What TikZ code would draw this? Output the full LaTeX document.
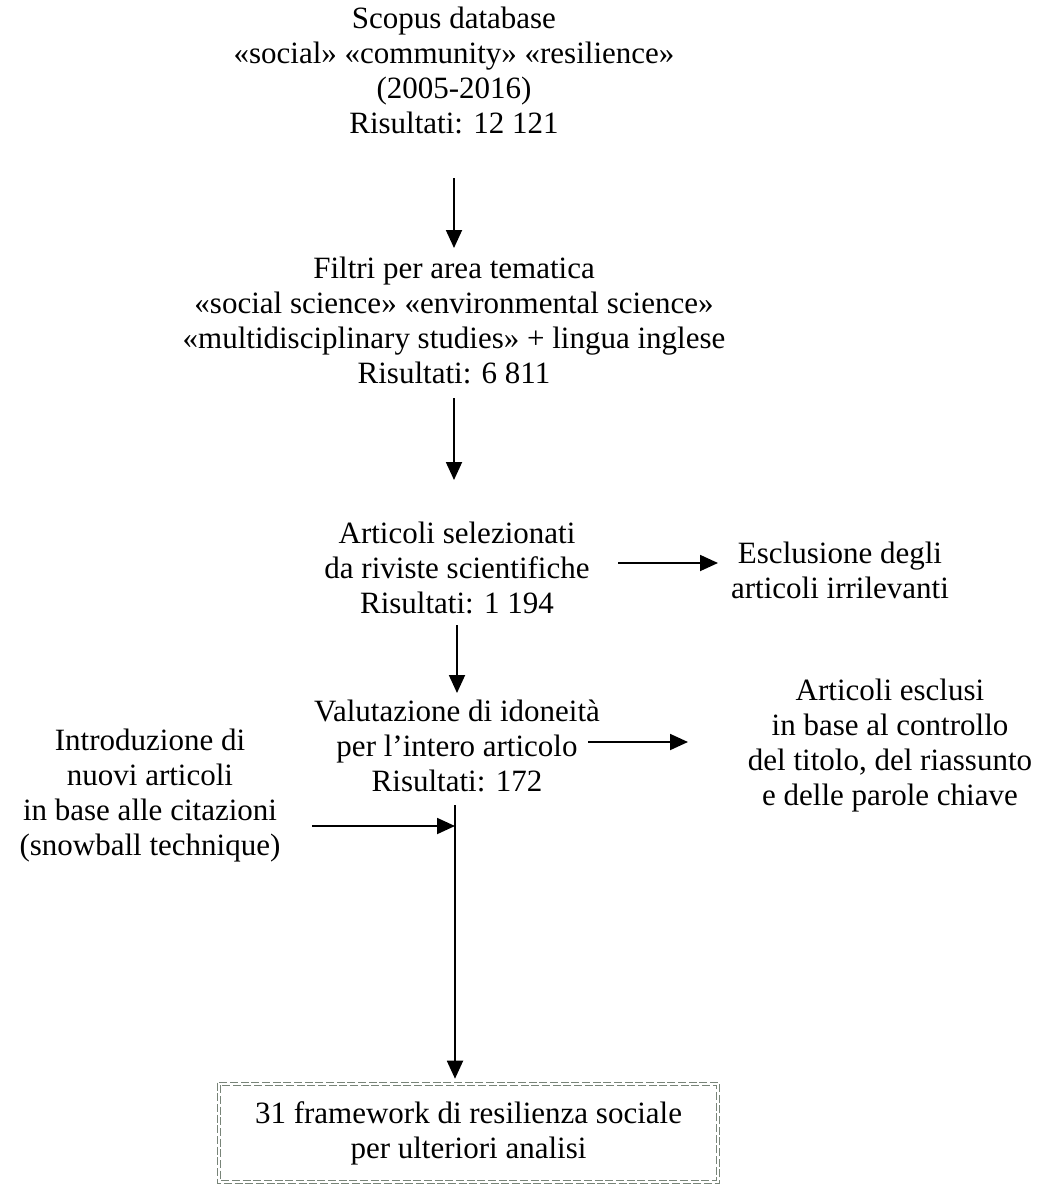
\documentclass[tikz,border=0pt]{standalone}
\usepackage{fontspec}
\setmainfont{Liberation Serif}
\usetikzlibrary{arrows.meta}
\definecolor{boxgray}{RGB}{120,132,120}
\tikzset{
  txt/.style={align=center, inner sep=0pt, font=\fontsize{23.25pt}{26.25pt}\selectfont},
  arr/.style={line width=1.4pt, -{Triangle[length=13.5pt,width=12pt]}},
  boxline/.style={draw=boxgray, line width=0.6pt, dash pattern=on 6pt off 2pt},
}
\begin{document}
\begin{tikzpicture}[x=0.75pt,y=-0.75pt]
\useasboundingbox (0,0) rectangle (1045,1189);
% text blocks
\node[txt] (b1) at (454,70.5) {Scopus database\\«social» «community» «resilience»\\(2005-2016)\\Risultati: 12 121};
\node[txt] (b2) at (454,320.5) {Filtri per area tematica\\«social science» «environmental science»\\«multidisciplinary studies» + lingua inglese\\Risultati: 6 811};
\node[txt] (b3) at (457,568) {Articoli selezionati\\da riviste scientifiche\\Risultati: 1 194};
\node[txt] (r3) at (840,570.5) {Esclusione degli\\articoli irrilevanti};
\node[txt] (b4) at (457,746) {Valutazione di idoneità\\per l’intero articolo\\Risultati: 172};
\node[txt] (r4) at (890,745.5) {Articoli esclusi\\in base al controllo\\del titolo, del riassunto\\e delle parole chiave};
\node[txt] (l5) at (150,795.5) {Introduzione di\\nuovi articoli\\in base alle citazioni\\(snowball technique)};
\node[minimum width=375.75pt, minimum height=75pt, inner sep=0pt,
      align=center, font=\fontsize{23.25pt}{26.25pt}\selectfont] (fin) at (468.5,1133)
      {31 framework di resilienza sociale\\per ulteriori analisi};
\draw[boxline] (fin.north west) rectangle (fin.south east);
\draw[boxline] ([xshift=2pt,yshift=-2pt]fin.north west) rectangle ([xshift=-2pt,yshift=2pt]fin.south east);
% connector end points
\coordinate (a1s) at (454,178);
\coordinate (a1e) at (454,248);
\coordinate (a2s) at (454,398);
\coordinate (a2e) at (454,480);
\coordinate (h3s) at (618,563);
\coordinate (h3e) at (718,563);
\coordinate (a3s) at (457,625);
\coordinate (a3e) at (457,693);
\coordinate (h4s) at (588,742);
\coordinate (h4e) at (688,742);
\coordinate (a4s) at (455,805);
\coordinate (j) at (455,826);
\coordinate (h5s) at (312,826);
% connectors
\draw[arr] (a1s) -- (a1e);
\draw[arr] (a2s) -- (a2e);
\draw[arr] (h3s) -- (h3e);
\draw[arr] (a3s) -- (a3e);
\draw[arr] (h4s) -- (h4e);
\draw[arr] (h5s) -- (j);
\draw[arr] (a4s) -- ([yshift=3pt]fin.north -| a4s);
\end{tikzpicture}
\end{document}
